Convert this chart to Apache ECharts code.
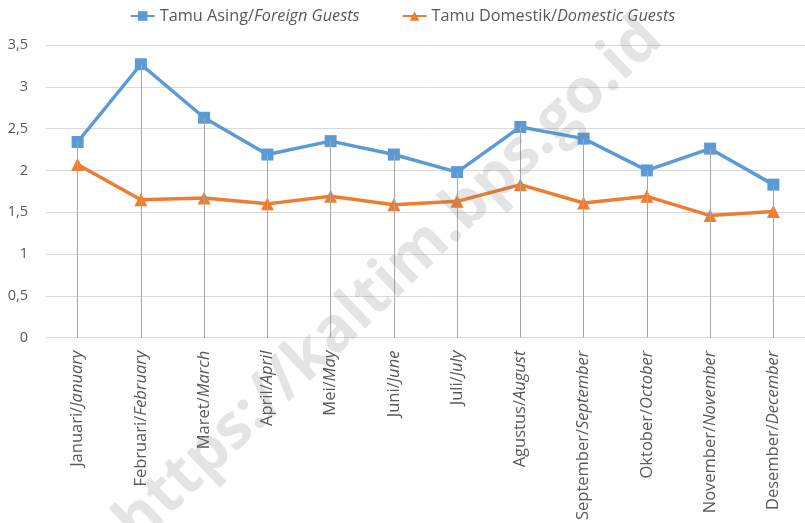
<!DOCTYPE html>
<html>
<head>
<meta charset="utf-8">
<script src="https://cdn.jsdelivr.net/npm/echarts@6/dist/echarts.min.js"></script>
<style>
  html, body { margin: 0; padding: 0; background: #fff; }
  #main { width: 805px; height: 523px; }
</style>
</head>
<body>
<div id="main"></div>
<script>
var bulan = ['Januari', 'Februari', 'Maret', 'April', 'Mei', 'Juni', 'Juli', 'Agustus', 'September', 'Oktober', 'November', 'Desember'];
var months = ['January', 'February', 'March', 'April', 'May', 'June', 'July', 'August', 'September', 'October', 'November', 'December'];
var asing = [2.34, 3.27, 2.63, 2.19, 2.35, 2.19, 1.98, 2.52, 2.38, 2.00, 2.26, 1.83];
var domestik = [2.07, 1.65, 1.67, 1.60, 1.69, 1.59, 1.63, 1.83, 1.61, 1.69, 1.46, 1.51];
var yTicks = [0, 0.5, 1, 1.5, 2, 2.5, 3, 3.5];

var chart = echarts.init(document.getElementById('main'));
var font = 'Open Sans';
var grey = '#595959';

// drop lines from the higher point down to the axis
var dropLines = bulan.map(function (b, i) {
    return [{ coord: [i, 0] }, { coord: [i, Math.max(asing[i], domestik[i])] }];
});

var option = {
    backgroundColor: '#fff',
    animation: false,
    textStyle: { fontFamily: font },
    legend: {
        top: 3,
        left: 'center',
        itemGap: 42,
        itemWidth: 24,
        itemHeight: 12,
        data: ['asing', 'domestik'],
        formatter: function (name) {
            return name === 'asing'
                ? '{n|Tamu Asing/}{i|Foreign Guests}'
                : '{n|Tamu Domestik/}{i|Domestic Guests}';
        },
        textStyle: {
            rich: {
                n: { fontFamily: font, fontSize: 16.3, color: grey },
                i: { fontFamily: font, fontSize: 16.3, color: grey, fontStyle: 'italic' }
            }
        }
    },
    grid: { left: 46, right: -4, top: 45, bottom: 185 },
    xAxis: {
        type: 'category',
        data: bulan,
        axisLine: { lineStyle: { color: '#d9d9d9', width: 1 } },
        axisTick: { show: false },
        axisLabel: {
            rotate: 90,
            margin: 13,
            interval: 0,
            formatter: function (v, i) {
                return '{n|' + v + '/}{i|' + months[i] + '}';
            },
            rich: {
                n: { fontFamily: font, fontSize: 16.5, color: grey },
                i: { fontFamily: font, fontSize: 16.5, color: grey, fontStyle: 'italic' }
            }
        }
    },
    yAxis: {
        type: 'value',
        min: yTicks[0],
        max: yTicks[yTicks.length - 1],
        interval: 0.5,
        axisLine: { show: false },
        axisTick: { show: false },
        splitLine: { lineStyle: { color: '#d9d9d9', width: 1 } },
        axisLabel: {
            margin: 18,
            fontSize: 14.5,
            color: grey,
            fontFamily: font,
            formatter: function (v) { return String(v).replace('.', ','); }
        }
    },
    graphic: [{
        type: 'text',
        x: 389,
        y: 281,
        rotation: 0.763,
        z: 100,
        silent: true,
        style: {
            text: 'https://kaltim.bps.go.id',
            font: 'bold 62px "Open Sans"',
            fill: 'rgba(120,120,120,0.2)',
            align: 'center',
            verticalAlign: 'middle'
        }
    }],
    series: [
        {
            type: 'line',
            name: 'drop',
            data: [],
            z: 1,
            silent: true,
            markLine: {
                silent: true,
                symbol: ['none', 'none'],
                label: { show: false },
                lineStyle: { color: '#a6a6a6', width: 1, type: 'solid' },
                data: dropLines
            }
        },
        {
            type: 'line',
            name: 'asing',
            data: asing,
            z: 3,
            color: '#5b9bd5',
            lineStyle: { width: 3.5, color: '#5b9bd5' },
            symbol: 'rect',
            symbolSize: 12,
            itemStyle: { color: '#5b9bd5' }
        },
        {
            type: 'line',
            name: 'domestik',
            data: domestik,
            z: 3,
            color: '#ed7d31',
            lineStyle: { width: 3.5, color: '#ed7d31' },
            symbol: 'triangle',
            symbolSize: 13,
            itemStyle: { color: '#ed7d31' }
        }
    ]
};
chart.setOption(option);
</script>
</body>
</html>
